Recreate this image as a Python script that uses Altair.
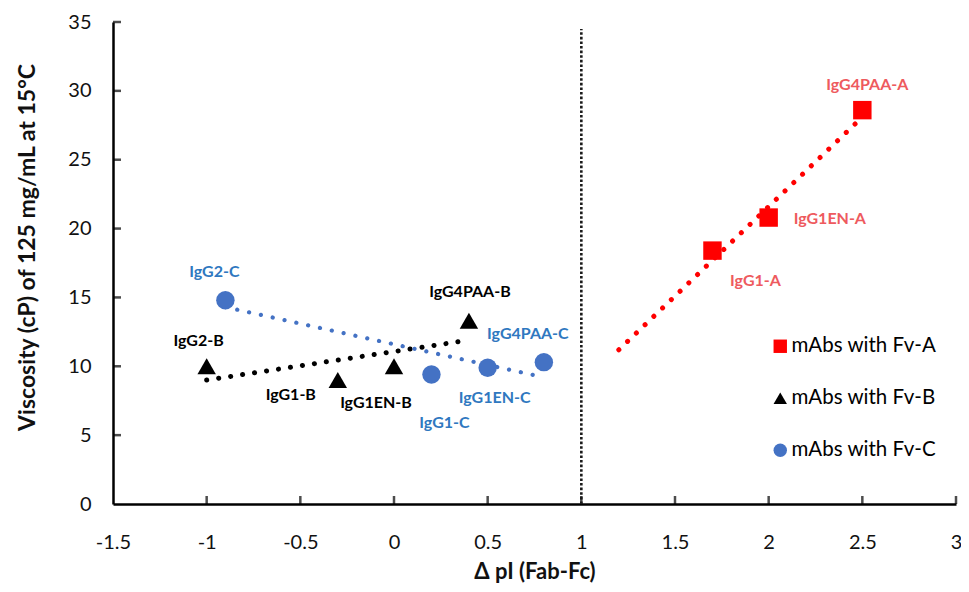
import altair as alt
import pandas as pd

# ---------------- data ----------------
series_order = ["mAbs with Fv-A", "mAbs with Fv-B", "mAbs with Fv-C"]

a_names = ["IgG1-A", "IgG1EN-A", "IgG4PAA-A"]
a_dpi = [1.7, 2.0, 2.5]
a_visc = [18.4, 20.8, 28.6]

b_names = ["IgG2-B", "IgG1-B", "IgG1EN-B", "IgG4PAA-B"]
b_dpi = [-1.0, -0.3, 0.0, 0.4]
b_visc = [10.0, 9.0, 10.0, 13.3]

c_names = ["IgG2-C", "IgG1-C", "IgG1EN-C", "IgG4PAA-C"]
c_dpi = [-0.9, 0.2, 0.5, 0.8]
c_visc = [14.8, 9.4, 9.9, 10.3]

# dotted trend lines (end points)
trend_a_x = [1.2, 2.5]
trend_a_y = [11.2, 28.1]
trend_b_x = [-1.0, 0.4]
trend_b_y = [9.0, 11.9]
trend_c_x = [-0.9, 0.8]
trend_c_y = [14.3, 9.2]

ref_line_x = 1.0
ref_line_y = [0, 34.5]
x_ticks = [-1.5, -1.0, -0.5, 0.0, 0.5, 1.0, 1.5, 2.0, 2.5, 3.0]
y_ticks = [0, 5, 10, 15, 20, 25, 30, 35]

X_TITLE = "Δ pI (Fab-Fc)"
Y_TITLE = "Viscosity (cP) of 125 mg/mL at 15°C"

# ---------------- styles ----------------
FONT = "Lato"
W, H = 843, 482
marker_colors = ["#FF0000", "#000000", "#4472C4"]
marker_shapes = ["square", "triangle-up", "circle"]
label_colors = {"A": "#EE5A5E", "B": "#000000", "C": "#2F78C0"}
# (dx, dy, align) of each point label
label_style = {
    "IgG1-A": (43, 30, "center"),
    "IgG1EN-A": (25, 1, "left"),
    "IgG4PAA-A": (5, -25, "center"),
    "IgG2-B": (-8, -25, "center"),
    "IgG1-B": (-47, 15, "center"),
    "IgG1EN-B": (-18, 37, "center"),
    "IgG4PAA-B": (1, -29, "center"),
    "IgG2-C": (-11, -28, "center"),
    "IgG1-C": (13, 48, "center"),
    "IgG1EN-C": (7, 30, "center"),
    "IgG4PAA-C": (-16, -28, "center"),
}

rows = []
for s, names, xs, ys in [
    (series_order[0], a_names, a_dpi, a_visc),
    (series_order[1], b_names, b_dpi, b_visc),
    (series_order[2], c_names, c_dpi, c_visc),
]:
    for n, xv, yv in zip(names, xs, ys):
        rows.append({"series": s, "name": n, "dpi": xv, "visc": yv})
points = pd.DataFrame(rows)

xscale = alt.Scale(domain=[-1.5, 3], nice=False, zero=False)
yscale = alt.Scale(domain=[0, 35], nice=False, zero=False)

x_axis = alt.Axis(
    orient="bottom",
    values=x_ticks, title=X_TITLE,
    labelExpr="replace(format(datum.value, '~g'), '\u2212', '-')",
    labelFlush=False, labelOverlap=False,
    labelPadding=28, ticks=False, grid=False,
    domainColor="#000000", domainWidth=2.5,
    labelFont=FONT, labelFontSize=20, labelColor="#111111",
    titleFont=FONT, titleFontSize=22, titleFontWeight="bold", titleColor="#111111",
    titleY=67, titleBaseline="middle",
)
y_axis = alt.Axis(
    orient="left",
    values=y_ticks, title=Y_TITLE, labelPadding=22, ticks=False,
    labelFlush=False, labelOverlap=False,
    grid=False, domainColor="#000000", domainWidth=2.5,
    labelFont=FONT, labelFontSize=20, labelColor="#111111",
    titleFont=FONT, titleFontSize=23, titleFontWeight="bold", titleColor="#111111",
    titleX=-86, titleY=225, titleBaseline="middle",
)

X = alt.X("dpi:Q", scale=xscale, axis=x_axis)
Y = alt.Y("visc:Q", scale=yscale, axis=y_axis)
Xn = alt.X("dpi:Q", scale=xscale, axis=None)
Yn = alt.Y("visc:Q", scale=yscale, axis=None)

legend = alt.Legend(
    title=None, orient="none", legendX=657, legendY=314, padding=0,
    labelFont=FONT, labelFontSize=20.5, labelColor="#000000", labelOffset=1,
    symbolSize=180, symbolStrokeWidth=0, symbolOpacity=1, rowPadding=31,
)

layers = []

# inward tick marks
xt = pd.DataFrame({"dpi": x_ticks[1:]})
layers.append(
    alt.Chart(xt).mark_tick(orient="vertical", size=8, thickness=2.5, color="#000000", yOffset=-4)
    .encode(x=Xn, y=alt.YDatum(0, scale=yscale, axis=None))
)
yt = pd.DataFrame({"visc": y_ticks[1:]})
layers.append(
    alt.Chart(yt).mark_tick(orient="horizontal", size=8, thickness=2.5, color="#000000", xOffset=4)
    .encode(y=Yn, x=alt.XDatum(-1.5, scale=xscale, axis=None))
)

# vertical dotted reference line
layers.append(
    alt.Chart(pd.DataFrame({"dpi": [ref_line_x]})).mark_rule(
        color="#1a1a1a", strokeWidth=2.6, strokeDash=[2.6, 2]
    ).encode(x=Xn, y=alt.YDatum(ref_line_y[0], scale=yscale, axis=None), y2=alt.Y2Datum(ref_line_y[1]))
)

# trend lines
for tx, ty, col, sw in [
    (trend_a_x, trend_a_y, marker_colors[0], 5),
    (trend_b_x, trend_b_y, marker_colors[1], 5),
    (trend_c_x, trend_c_y, marker_colors[2], 4.2),
]:
    layers.append(
        alt.Chart(pd.DataFrame({"dpi": tx, "visc": ty})).mark_line(
            color=col, strokeWidth=sw, strokeDash=[0.1, 12], strokeCap="round"
        ).encode(x=Xn, y=Yn)
    )

# markers (carry the axes and legend)
layers.append(
    alt.Chart(points).mark_point(filled=True, size=340, opacity=1, strokeWidth=0).encode(
        x=X, y=Y,
        color=alt.Color("series:N", scale=alt.Scale(domain=series_order, range=marker_colors), legend=legend),
        shape=alt.Shape("series:N", scale=alt.Scale(domain=series_order, range=marker_shapes), legend=legend),
    )
)

# point labels
for _, r in points.iterrows():
    dx, dy, al = label_style[r["name"]]
    col = label_colors[r["name"][-1]]
    layers.append(
        alt.Chart(points).transform_filter(alt.datum.name == r["name"]).mark_text(
            dx=dx, dy=dy, align=al, baseline="middle", font=FONT, fontSize=16,
            fontWeight="bold", color=col
        ).encode(x=Xn, y=Yn, text="name:N")
    )

chart = alt.layer(*layers).resolve_axis(x="independent", y="independent").properties(
    width=W, height=H, background="white",
    autosize=alt.AutoSizeParams(type="none"),
    padding={"left": 105, "top": 14, "right": 5, "bottom": 80},
).configure_view(stroke=None)

chart.save("out.html", embed_options={"renderer": "svg", "actions": False})
